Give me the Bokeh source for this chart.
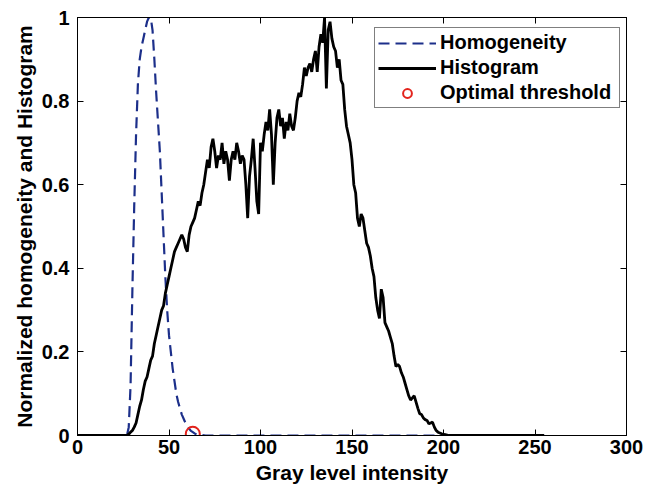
from bokeh.plotting import figure
from bokeh.models import (Range1d, LinearAxis, FixedTicker, CustomJSTickFormatter, Legend,
                          LegendItem, CustomLabelingPolicy)
from bokeh.embed import file_html
from bokeh.resources import INLINE

# ---------------- data ----------------
homog_x = [0, 27, 28, 29, 30, 31, 32, 33, 34, 35, 36, 37, 38, 39, 40, 41, 42, 43, 44, 45,
           46, 47, 48, 49, 50, 51, 52, 53, 54, 55, 56, 57, 58, 59, 60, 61, 62, 63, 64, 65,
           66, 68, 70, 255]
homog_y = [0, 0, 0.02, 0.12, 0.35, 0.55, 0.72, 0.84, 0.90, 0.93, 0.95, 0.97, 0.99, 1.0, 1.0,
           0.97, 0.90, 0.82, 0.75, 0.68, 0.58, 0.48, 0.38, 0.30, 0.24, 0.20, 0.16, 0.13, 0.10,
           0.08, 0.065, 0.05, 0.04, 0.03, 0.022, 0.016, 0.011, 0.008, 0.005, 0.003, 0.002,
           0.001, 0, 0]

hist_x = list(range(256))
hist_y = [
    0, 0, 0, 0, 0, 0, 0, 0, 0, 0,
    0, 0, 0, 0, 0, 0, 0, 0, 0, 0,
    0, 0, 0, 0, 0, 0, 0, 0, 0.003, 0.008,
    0.012, 0.02, 0.03, 0.05, 0.07, 0.085, 0.11, 0.13, 0.14, 0.16,
    0.18, 0.19, 0.22, 0.24, 0.26, 0.28, 0.30, 0.31, 0.34, 0.36,
    0.38, 0.40, 0.42, 0.44, 0.45, 0.46, 0.47, 0.48, 0.47, 0.45,
    0.44, 0.48, 0.50, 0.51, 0.52, 0.54, 0.56, 0.55, 0.58, 0.60,
    0.63, 0.66, 0.64, 0.69, 0.71, 0.68, 0.64, 0.67, 0.66, 0.70,
    0.65, 0.68, 0.66, 0.61, 0.66, 0.68, 0.66, 0.70, 0.68, 0.65,
    0.67, 0.66, 0.60, 0.52, 0.62, 0.66, 0.71, 0.64, 0.56, 0.53,
    0.70, 0.68, 0.72, 0.75, 0.73, 0.78, 0.72, 0.60, 0.70, 0.76,
    0.78, 0.74, 0.76, 0.71, 0.75, 0.73, 0.77, 0.74, 0.73, 0.76,
    0.80, 0.82, 0.81, 0.84, 0.88, 0.86, 0.88, 0.89, 0.87, 0.90,
    0.92, 0.87, 0.93, 0.96, 0.94, 1.00, 0.83, 0.97, 0.99, 0.95,
    0.93, 0.92, 0.88, 0.90, 0.85, 0.84, 0.78, 0.74, 0.72, 0.70,
    0.66, 0.60, 0.58, 0.52, 0.50, 0.53, 0.52, 0.49, 0.46, 0.45,
    0.43, 0.40, 0.38, 0.33, 0.30, 0.28, 0.35, 0.33, 0.27, 0.26,
    0.25, 0.235, 0.22, 0.19, 0.165, 0.17, 0.165, 0.15, 0.14, 0.125,
    0.11, 0.095, 0.085, 0.09, 0.095, 0.08, 0.065, 0.052, 0.05, 0.042,
    0.038, 0.036, 0.028, 0.03, 0.032, 0.02, 0.012, 0.008, 0.006, 0.004,
    0.003, 0.002, 0.001, 0, 0, 0, 0, 0, 0, 0,
    0, 0, 0, 0, 0, 0, 0, 0, 0, 0,
    0, 0, 0, 0, 0, 0, 0, 0, 0, 0,
    0, 0, 0, 0, 0, 0, 0, 0, 0, 0,
    0, 0, 0, 0, 0, 0, 0, 0, 0, 0,
    0, 0, 0, 0, 0, 0,
]

thresh_x = [63]
thresh_y = [0.004]

x_ticks = [0, 50, 100, 150, 200, 250, 300]
y_ticks = [0, 0.2, 0.4, 0.6, 0.8, 1]

x_label = "Gray level intensity"
y_label = "Normalized homogeneity and Histogram"
series_names = ["Homogeneity", "Histogram", "Optimal threshold"]

# ---------------- figure ----------------
FONT = "Liberation Sans"

p = figure(width=647, height=487, output_backend="svg", toolbar_location=None,
           x_range=Range1d(0, 300), y_range=Range1d(0, 1),
           min_border_left=77, min_border_right=21, min_border_top=17, min_border_bottom=52,
           x_axis_label=x_label, y_axis_label=y_label)
p.grid.visible = False
p.outline_line_color = "black"
p.outline_line_width = 1
p.background_fill_color = "white"
p.border_fill_color = "white"

yfmt = CustomJSTickFormatter(code="return String(Math.round(tick*10)/10);")

for ax in p.xaxis:
    ax.ticker = FixedTicker(ticks=x_ticks)
for ax in p.yaxis:
    ax.ticker = FixedTicker(ticks=y_ticks)
    ax.formatter = yfmt

for ax in list(p.xaxis) + list(p.yaxis):
    ax.major_tick_in = 6
    ax.major_tick_out = 0
    ax.minor_tick_line_color = None
    ax.axis_line_color = "black"
    ax.major_tick_line_color = "black"
    ax.major_label_text_font = FONT
    ax.major_label_text_font_style = "bold"
    ax.major_label_text_font_size = "20px"
    ax.major_label_text_color = "black"
    ax.axis_label_text_font = FONT
    ax.axis_label_text_font_style = "bold"
    ax.axis_label_text_font_size = "21px"
    ax.axis_label_text_color = "black"

p.xaxis.major_label_standoff = 4
p.xaxis.axis_label_standoff = 4
p.yaxis.major_label_standoff = 8
p.yaxis.axis_label_standoff = 3

# mirrored ticks on top and right (box), without labels
no_labels = CustomLabelingPolicy(code="return [];")
top_ax = LinearAxis(ticker=FixedTicker(ticks=x_ticks), major_tick_in=6, major_tick_out=0,
                    minor_tick_line_color=None, major_label_text_font_size="0px",
                    major_label_standoff=0, axis_line_color="black",
                    major_label_policy=no_labels)
right_ax = LinearAxis(ticker=FixedTicker(ticks=y_ticks), major_tick_in=6, major_tick_out=0,
                      minor_tick_line_color=None, major_label_text_font_size="0px",
                      major_label_standoff=0, axis_line_color="black",
                      major_label_policy=no_labels)
p.add_layout(top_ax, "above")
p.add_layout(right_ax, "right")

r_h = p.line(homog_x, homog_y, line_color="#1c2f8a", line_width=2.2, line_dash="11 6")
r_hist = p.line(hist_x, hist_y, line_color="black", line_width=2.8)
r_t = p.scatter(thresh_x, thresh_y, marker="circle", size=14, fill_color=None,
                line_color="#e3231c", line_width=2)

legend = Legend(items=[LegendItem(label=series_names[0], renderers=[r_h]),
                       LegendItem(label=series_names[1], renderers=[r_hist]),
                       LegendItem(label=series_names[2], renderers=[r_t])],
                location=(297, 327))
legend.label_text_font = FONT
legend.label_text_font_style = "bold"
legend.label_text_font_size = "20px"
legend.label_text_line_height = 1.0
legend.label_text_color = "black"
legend.border_line_color = "black"
legend.border_line_width = 1
legend.background_fill_color = "white"
legend.background_fill_alpha = 1
legend.padding = 3
legend.spacing = 2
legend.glyph_width = 58
legend.glyph_height = 22
legend.label_height = 22
legend.label_width = 176
legend.label_standoff = 4
legend.margin = 0
p.add_layout(legend, "center")

open("out.html", "w").write(file_html(p, INLINE))
